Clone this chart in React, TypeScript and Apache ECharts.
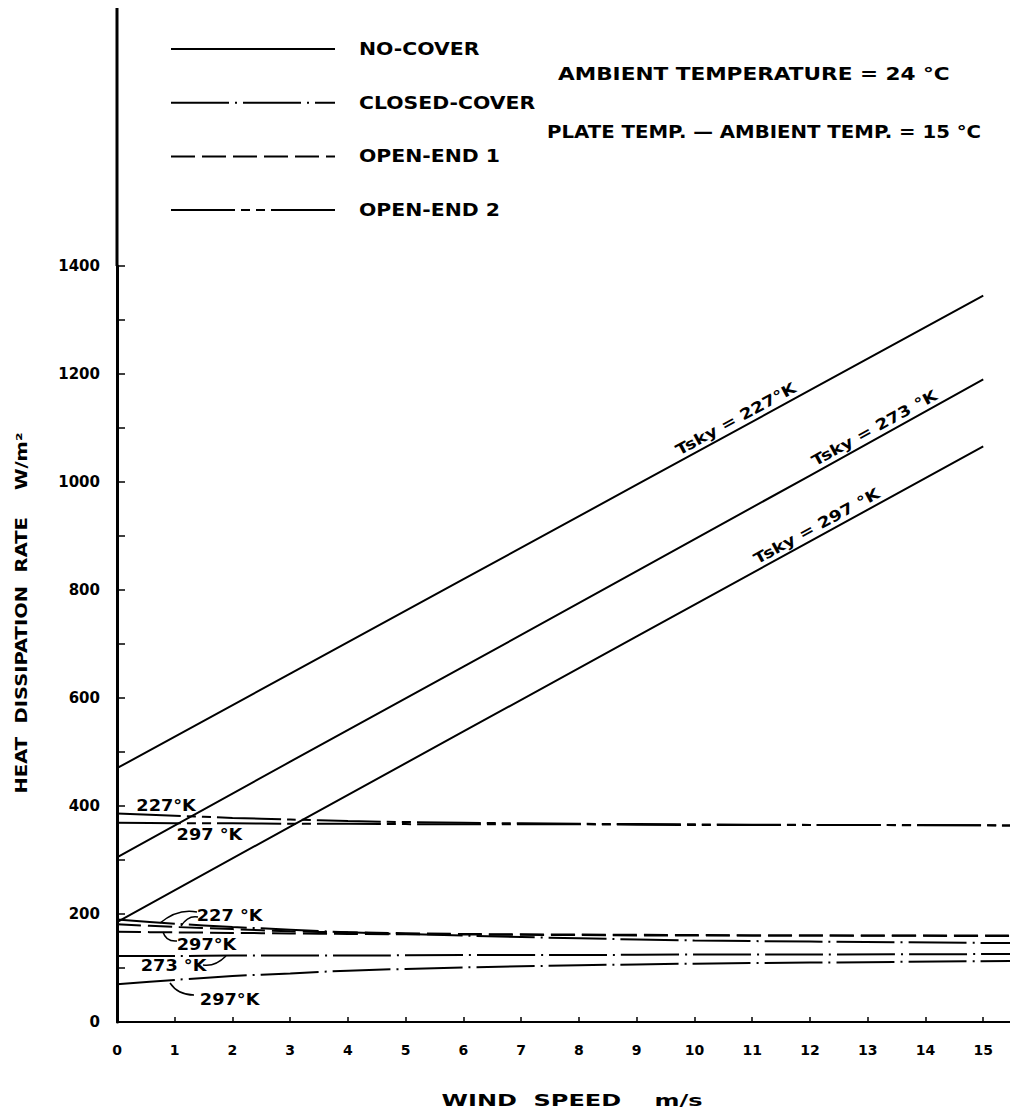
import React, { useEffect, useRef } from "react";
import * as echarts from "echarts";

// ---- data ----
const windSpeedTicks = [0, 1, 2, 3, 4, 5, 6, 7, 8, 9, 10, 11, 12, 13, 14, 15];
const heatTickLabels = [0, 200, 400, 600, 800, 1000, 1200, 1400];

const speedsNoCover = [0, 3, 6, 9, 12, 15];
const noCover227 = [470, 645, 820, 995, 1170, 1345];
const noCover273 = [305, 482, 658, 835, 1012, 1190];
const noCover297 = [185, 362, 538, 714, 890, 1066];

const speedsCovered = [0, 1, 2, 3, 4, 6, 8, 10, 12, 15.55];
const openEnd2_227 = [386, 382, 378, 375, 372, 369, 367, 366, 365, 364];
const openEnd2_297 = [369, 368, 368, 367, 367, 366, 366, 365, 365, 364];
const openEnd1_227 = [181, 176, 172, 168, 166, 163, 162, 161, 160, 160];
const openEnd1_297 = [167, 166, 165, 164, 163, 162, 161, 160, 160, 159];
const closed227 = [190, 182, 176, 171, 166, 160, 155, 151, 149, 146];
const closed273 = [122, 122, 123, 123, 123, 124, 124, 125, 125, 126];
const closed297 = [70, 78, 85, 90, 95, 101, 105, 108, 110, 113];

const legendItems = ["NO-COVER", "CLOSED-COVER", "OPEN-END 1", "OPEN-END 2"];
const tskyLabels = ["Tsky = 227°K", "Tsky = 273 °K", "Tsky = 297 °K"];
const tskyLabelSpeed = [10.8, 13.2, 12.2];

// small labels: [text, speed, value]
const smallLabels: [string, number, number][] = [
  ["227°K", 0.85, 400],
  ["297 °K", 1.6, 347],
  ["227 °K", 1.95, 197],
  ["297°K", 1.55, 142],
  ["273 °K", 0.98, 103],
  ["297°K", 1.95, 41],
];

const FONT = "'DejaVu Sans', 'Liberation Sans', sans-serif";
const DASH_SOLID: number[] | string = "solid";
const DASH_CLOSED = [58, 6, 2, 6];
const DASH_OPEN1 = [24, 7];
const DASH_OPEN2 = [64, 6, 9, 6, 9, 6];
const legendDashes: any[] = [null, DASH_CLOSED, DASH_OPEN1, DASH_OPEN2];

function interp(xs: number[], ys: number[], x: number) {
  for (let i = 0; i < xs.length - 1; i++) {
    if (x >= xs[i] && x <= xs[i + 1]) {
      const t = (x - xs[i]) / (xs[i + 1] - xs[i]);
      return ys[i] + t * (ys[i + 1] - ys[i]);
    }
  }
  return ys[ys.length - 1];
}

export default function App() {
  const ref = useRef<HTMLDivElement>(null);
  useEffect(() => {
    const chart = echarts.init(ref.current!, null, { renderer: "svg" });
    const pair = (xs: number[], ys: number[]) => xs.map((x, i) => [x, ys[i]]);
    const mk = (name: string, xs: number[], ys: number[], dash: any, smooth: number | boolean = false) => ({
      name,
      type: "line",
      data: pair(xs, ys),
      showSymbol: false,
      symbol: "none",
      smooth,
      lineStyle: { color: "#000", width: 2, type: dash },
      z: 3,
    });
    chart.setOption({
      animation: false,
      backgroundColor: "#fff",
      grid: { left: 117, right: 2, top: 266, bottom: 95, containLabel: false },
      xAxis: {
        type: "value",
        min: 0,
        max: 15.55,
        interval: 1,
        axisLine: { lineStyle: { color: "#000", width: 2 } },
        axisTick: { show: true, inside: true, length: 5, lineStyle: { color: "#000", width: 1.5 } },
        axisLabel: {
          formatter: (v: number) => (windSpeedTicks.includes(v) ? String(v) : ""),
          color: "#000",
          fontFamily: FONT,
          fontWeight: "bold",
          fontSize: 14,
          margin: 21,
        },
        splitLine: { show: false },
      },
      yAxis: {
        type: "value",
        min: 0,
        max: 1400,
        interval: 100,
        axisLine: { show: true, lineStyle: { color: "#000", width: 3 } },
        axisTick: { show: true, inside: true, length: 8, lineStyle: { color: "#000", width: 1.5 } },
        axisLabel: {
          formatter: (v: number) => (heatTickLabels.includes(v) ? String(v) : ""),
          color: "#000",
          fontFamily: FONT,
          fontWeight: "bold",
          fontSize: 15,
          margin: 17,
        },
        splitLine: { show: false },
      },
      series: [
        mk("NO-COVER Tsky=227 K", speedsNoCover, noCover227, DASH_SOLID),
        mk("NO-COVER Tsky=273 K", speedsNoCover, noCover273, DASH_SOLID),
        mk("NO-COVER Tsky=297 K", speedsNoCover, noCover297, DASH_SOLID),
        mk("OPEN-END 2 Tsky=227 K", speedsCovered, openEnd2_227, DASH_OPEN2, 0.3),
        mk("OPEN-END 2 Tsky=297 K", speedsCovered, openEnd2_297, DASH_OPEN2, 0.3),
        mk("OPEN-END 1 Tsky=227 K", speedsCovered, openEnd1_227, DASH_OPEN1, 0.3),
        mk("OPEN-END 1 Tsky=297 K", speedsCovered, openEnd1_297, DASH_OPEN1, 0.3),
        mk("CLOSED-COVER Tsky=227 K", speedsCovered, closed227, DASH_CLOSED, 0.3),
        mk("CLOSED-COVER Tsky=273 K", speedsCovered, closed273, DASH_CLOSED, 0.3),
        mk("CLOSED-COVER Tsky=297 K", speedsCovered, closed297, DASH_CLOSED, 0.3),
      ],
    });

    const P = (x: number, y: number) => chart.convertToPixel({ gridIndex: 0 } as any, [x, y]) as number[];
    const graphics: any[] = [];
    const top = P(0, 1400);
    // y axis continues above the top tick
    graphics.push({
      type: "line",
      shape: { x1: top[0], y1: 8, x2: top[0], y2: top[1] },
      style: { stroke: "#000", lineWidth: 3 },
    });

    const txt = (text: string, x: number, y: number, size: number, sx: number, align = "left", extra: any = {}) => ({
      type: "text",
      x,
      y,
      scaleX: sx,
      ...extra,
      style: { text, fill: "#000", font: `bold ${size}px ${FONT}`, textAlign: align, textVerticalAlign: "middle", ...(extra.style || {}) },
    });

    // legend
    legendItems.forEach((name, i) => {
      const y = 49 + i * 53.7;
      graphics.push({
        type: "line",
        shape: { x1: 171, y1: y, x2: 335, y2: y },
        style: { stroke: "#000", lineWidth: 2, lineDash: legendDashes[i] || null },
      });
      graphics.push(txt(name, 359, y, 17, 1.2));
    });

    // condition notes
    graphics.push(txt("AMBIENT TEMPERATURE = 24 °C", 558, 74, 17, 1.27));
    graphics.push(txt("PLATE TEMP. — AMBIENT TEMP. = 15 °C", 547, 132, 17, 1.16));

    // Tsky labels along the no-cover lines
    const ncSeries = [noCover227, noCover273, noCover297];
    ncSeries.forEach((ys, i) => {
      const s = tskyLabelSpeed[i];
      const p = P(s, interp(speedsNoCover, ys, s));
      const a = P(0, ys[0]);
      const b = P(15, ys[ys.length - 1]);
      const ang = Math.atan2(a[1] - b[1], b[0] - a[0]);
      graphics.push({
        type: "text",
        x: p[0],
        y: p[1],
        rotation: ang,
        scaleX: 1.22,
        style: { text: tskyLabels[i], x: 0, y: -3, fill: "#000", font: `bold 15px ${FONT}`, textAlign: "center", textVerticalAlign: "bottom" },
      });
    });

    // small Tsky labels on covered lines
    smallLabels.forEach(([t, s, v]) => {
      const p = P(s, v);
      graphics.push(txt(t, p[0], p[1], 15, 1.18, "center"));
    });

    // leader curves
    const leaders = [
      [197, 912, 178, 908, 160, 923],
      [198, 917, 188, 915, 181, 926],
      [177, 941, 166, 942, 163, 932],
      [203, 965, 215, 967, 226, 956],
      [194, 995, 178, 995, 170, 983],
    ];
    leaders.forEach(([x1, y1, cx, cy, x2, y2]) => {
      graphics.push({
        type: "bezierCurve",
        shape: { x1, y1, cpx1: cx, cpy1: cy, x2, y2 },
        style: { stroke: "#000", lineWidth: 1.5, fill: null },
      });
    });

    // axis titles
    graphics.push(txt("WIND  SPEED    m/s", 572, 1101, 16, 1.5, "center"));
    graphics.push(txt("HEAT  DISSIPATION  RATE    W/m²", 21, 613, 16, 1.22, "center", { rotation: Math.PI / 2 }));

    chart.setOption({ graphic: graphics });
    return () => chart.dispose();
  }, []);
  return <div ref={ref} style={{ width: 1018, height: 1117, margin: -8 }} />;
}
